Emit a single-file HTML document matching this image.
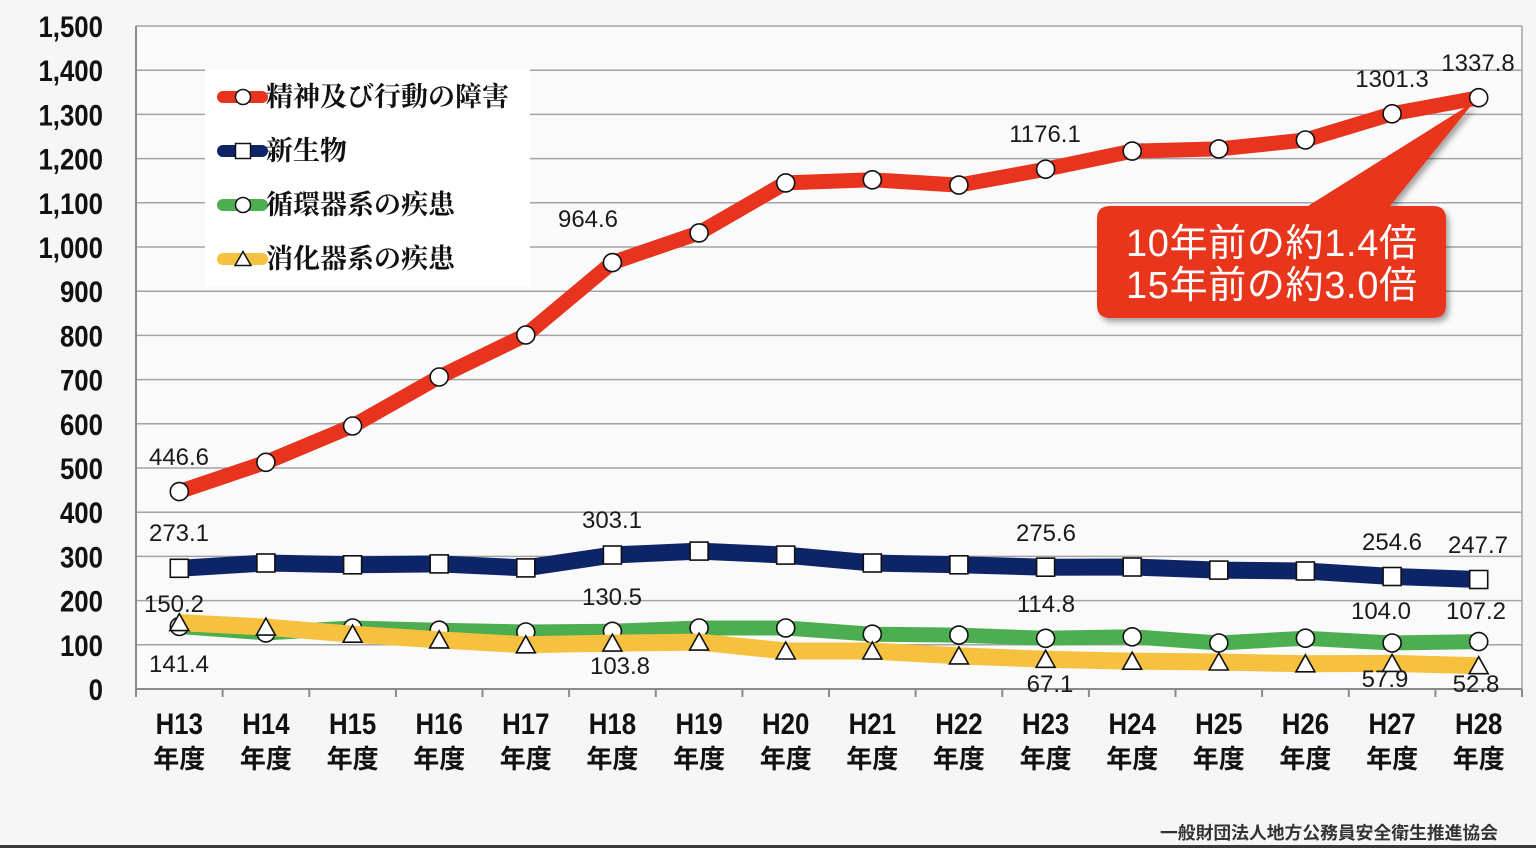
<!DOCTYPE html>
<html><head><meta charset="utf-8">
<style>
html,body{margin:0;padding:0;background:#f6f6f6;}
svg{display:block;}
</style></head>
<body>
<svg width="1536" height="848" viewBox="0 0 1536 848" xmlns="http://www.w3.org/2000/svg">
<defs>
<filter id="sh" x="-10%" y="-10%" width="130%" height="130%">
<feDropShadow dx="3" dy="4" stdDeviation="3" flood-color="#000" flood-opacity="0.35"/>
</filter>
</defs>
<rect x="0" y="0" width="1536" height="848" fill="#f6f6f6"/>
<rect x="136" y="26" width="1386" height="663" fill="#fafafa"/>
<!-- gridlines -->
<g stroke="#a3a3a3" stroke-width="1.5">
<line x1="136" y1="26" x2="1522" y2="26"/>
<line x1="136" y1="70.2" x2="1522" y2="70.2"/>
<line x1="136" y1="114.4" x2="1522" y2="114.4"/>
<line x1="136" y1="158.6" x2="1522" y2="158.6"/>
<line x1="136" y1="202.8" x2="1522" y2="202.8"/>
<line x1="136" y1="247" x2="1522" y2="247"/>
<line x1="136" y1="291.2" x2="1522" y2="291.2"/>
<line x1="136" y1="335.4" x2="1522" y2="335.4"/>
<line x1="136" y1="379.6" x2="1522" y2="379.6"/>
<line x1="136" y1="423.8" x2="1522" y2="423.8"/>
<line x1="136" y1="468" x2="1522" y2="468"/>
<line x1="136" y1="512.2" x2="1522" y2="512.2"/>
<line x1="136" y1="556.4" x2="1522" y2="556.4"/>
<line x1="136" y1="600.6" x2="1522" y2="600.6"/>
<line x1="136" y1="644.8" x2="1522" y2="644.8"/>
<line x1="1522" y1="26" x2="1522" y2="689"/>
</g>
<!-- axes -->
<g stroke="#8a8a8a" stroke-width="2">
<line x1="136" y1="26" x2="136" y2="690"/>
<line x1="136" y1="689" x2="1522" y2="689"/>
<line x1="136" y1="689" x2="136" y2="697"/>
<line x1="222.6" y1="689" x2="222.6" y2="697"/>
<line x1="309.3" y1="689" x2="309.3" y2="697"/>
<line x1="395.9" y1="689" x2="395.9" y2="697"/>
<line x1="482.5" y1="689" x2="482.5" y2="697"/>
<line x1="569.1" y1="689" x2="569.1" y2="697"/>
<line x1="655.8" y1="689" x2="655.8" y2="697"/>
<line x1="742.4" y1="689" x2="742.4" y2="697"/>
<line x1="829" y1="689" x2="829" y2="697"/>
<line x1="915.6" y1="689" x2="915.6" y2="697"/>
<line x1="1002.3" y1="689" x2="1002.3" y2="697"/>
<line x1="1088.9" y1="689" x2="1088.9" y2="697"/>
<line x1="1175.5" y1="689" x2="1175.5" y2="697"/>
<line x1="1262.1" y1="689" x2="1262.1" y2="697"/>
<line x1="1348.8" y1="689" x2="1348.8" y2="697"/>
<line x1="1435.4" y1="689" x2="1435.4" y2="697"/>
<line x1="1522" y1="689" x2="1522" y2="697"/>
</g>
<!-- y labels -->
<g font-family="Liberation Sans, sans-serif" font-size="30" font-weight="bold" fill="#111" text-anchor="end">
<text transform="translate(103,37) scale(0.86,1)">1,500</text>
<text transform="translate(103,81.2) scale(0.86,1)">1,400</text>
<text transform="translate(103,125.4) scale(0.86,1)">1,300</text>
<text transform="translate(103,169.6) scale(0.86,1)">1,200</text>
<text transform="translate(103,213.8) scale(0.86,1)">1,100</text>
<text transform="translate(103,258) scale(0.86,1)">1,000</text>
<text transform="translate(103,302.2) scale(0.86,1)">900</text>
<text transform="translate(103,346.4) scale(0.86,1)">800</text>
<text transform="translate(103,390.6) scale(0.86,1)">700</text>
<text transform="translate(103,434.8) scale(0.86,1)">600</text>
<text transform="translate(103,479) scale(0.86,1)">500</text>
<text transform="translate(103,523.2) scale(0.86,1)">400</text>
<text transform="translate(103,567.4) scale(0.86,1)">300</text>
<text transform="translate(103,611.6) scale(0.86,1)">200</text>
<text transform="translate(103,655.8) scale(0.86,1)">100</text>
<text transform="translate(103,700) scale(0.86,1)">0</text>
</g>
<!-- x labels -->
<g font-family="Liberation Sans, sans-serif" font-size="30" font-weight="bold" fill="#111" text-anchor="middle">
<text transform="translate(179.3,734) scale(0.86,1)">H13</text>
<text transform="translate(265.9,734) scale(0.86,1)">H14</text>
<text transform="translate(352.6,734) scale(0.86,1)">H15</text>
<text transform="translate(439.2,734) scale(0.86,1)">H16</text>
<text transform="translate(525.8,734) scale(0.86,1)">H17</text>
<text transform="translate(612.4,734) scale(0.86,1)">H18</text>
<text transform="translate(699.1,734) scale(0.86,1)">H19</text>
<text transform="translate(785.7,734) scale(0.86,1)">H20</text>
<text transform="translate(872.3,734) scale(0.86,1)">H21</text>
<text transform="translate(958.9,734) scale(0.86,1)">H22</text>
<text transform="translate(1045.6,734) scale(0.86,1)">H23</text>
<text transform="translate(1132.2,734) scale(0.86,1)">H24</text>
<text transform="translate(1218.8,734) scale(0.86,1)">H25</text>
<text transform="translate(1305.4,734) scale(0.86,1)">H26</text>
<text transform="translate(1392.1,734) scale(0.86,1)">H27</text>
<text transform="translate(1478.7,734) scale(0.86,1)">H28</text>
</g>
<g font-family="Liberation Sans, 'Noto Sans CJK JP', sans-serif" font-size="26" font-weight="bold" fill="#111" text-anchor="middle">
<text x="179.3" y="768">年度</text>
<text x="265.9" y="768">年度</text>
<text x="352.6" y="768">年度</text>
<text x="439.2" y="768">年度</text>
<text x="525.8" y="768">年度</text>
<text x="612.4" y="768">年度</text>
<text x="699.1" y="768">年度</text>
<text x="785.7" y="768">年度</text>
<text x="872.3" y="768">年度</text>
<text x="958.9" y="768">年度</text>
<text x="1045.6" y="768">年度</text>
<text x="1132.2" y="768">年度</text>
<text x="1218.8" y="768">年度</text>
<text x="1305.4" y="768">年度</text>
<text x="1392.1" y="768">年度</text>
<text x="1478.7" y="768">年度</text>
</g>

<!-- legend box -->
<rect x="205" y="69" width="325" height="217" fill="#ffffff"/>

<!-- Red series -->
<polyline fill="none" stroke="#e8341f" stroke-width="15" stroke-linejoin="round" points="179.3,491.6 265.9,462.3 352.6,426 439.2,377 525.8,335 612.4,262.6 699.1,232.9 785.7,182.9 872.3,179.8 958.9,185.1 1045.6,169.2 1132.2,151.1 1218.8,148.9 1305.4,140 1392.1,113.8 1478.7,97.7"/>
<g fill="#fff" stroke="#111" stroke-width="1.6">
<circle cx="179.3" cy="491.6" r="9"/><circle cx="265.9" cy="462.3" r="9"/><circle cx="352.6" cy="426" r="9"/><circle cx="439.2" cy="377" r="9"/><circle cx="525.8" cy="335" r="9"/><circle cx="612.4" cy="262.6" r="9"/><circle cx="699.1" cy="232.9" r="9"/><circle cx="785.7" cy="182.9" r="9"/><circle cx="872.3" cy="179.8" r="9"/><circle cx="958.9" cy="185.1" r="9"/><circle cx="1045.6" cy="169.2" r="9"/><circle cx="1132.2" cy="151.1" r="9"/><circle cx="1218.8" cy="148.9" r="9"/><circle cx="1305.4" cy="140" r="9"/><circle cx="1392.1" cy="113.8" r="9"/><circle cx="1478.7" cy="97.7" r="9"/>
</g>

<!-- Blue series -->
<polyline fill="none" stroke="#0d2466" stroke-width="17" stroke-linejoin="round" points="179.3,568.3 265.9,563 352.6,564.8 439.2,563.9 525.8,567.9 612.4,555 699.1,551.1 785.7,555.1 872.3,563 958.9,564.8 1045.6,567.2 1132.2,567 1218.8,570.1 1305.4,571 1392.1,576.5 1478.7,579.5"/>
<g fill="#fff" stroke="#111" stroke-width="1.6">
<rect x="170.3" y="559.3" width="18" height="18"/><rect x="256.9" y="554" width="18" height="18"/><rect x="343.6" y="555.8" width="18" height="18"/><rect x="430.2" y="554.9" width="18" height="18"/><rect x="516.8" y="558.9" width="18" height="18"/><rect x="603.4" y="546" width="18" height="18"/><rect x="690.1" y="542.1" width="18" height="18"/><rect x="776.7" y="546.1" width="18" height="18"/><rect x="863.3" y="554" width="18" height="18"/><rect x="949.9" y="555.8" width="18" height="18"/><rect x="1036.6" y="558.2" width="18" height="18"/><rect x="1123.2" y="558" width="18" height="18"/><rect x="1209.8" y="561.1" width="18" height="18"/><rect x="1296.4" y="562" width="18" height="18"/><rect x="1383.1" y="567.5" width="18" height="18"/><rect x="1469.7" y="570.5" width="18" height="18"/>
</g>

<!-- Green series -->
<polyline fill="none" stroke="#4cae50" stroke-width="15" stroke-linejoin="round" points="179.3,626.5 265.9,632.9 352.6,628 439.2,630.2 525.8,632 612.4,631.3 699.1,628 785.7,628 872.3,634.2 958.9,635.1 1045.6,638.3 1132.2,636.8 1218.8,643 1305.4,638.2 1392.1,643 1478.7,641.6"/>
<g fill="#fff" stroke="#111" stroke-width="1.6">
<circle cx="179.3" cy="626.5" r="9"/><circle cx="265.9" cy="632.9" r="9"/><circle cx="352.6" cy="628" r="9"/><circle cx="439.2" cy="630.2" r="9"/><circle cx="525.8" cy="632" r="9"/><circle cx="612.4" cy="631.3" r="9"/><circle cx="699.1" cy="628" r="9"/><circle cx="785.7" cy="628" r="9"/><circle cx="872.3" cy="634.2" r="9"/><circle cx="958.9" cy="635.1" r="9"/><circle cx="1045.6" cy="638.3" r="9"/><circle cx="1132.2" cy="636.8" r="9"/><circle cx="1218.8" cy="643" r="9"/><circle cx="1305.4" cy="638.2" r="9"/><circle cx="1392.1" cy="643" r="9"/><circle cx="1478.7" cy="641.6" r="9"/>
</g>

<!-- Yellow series -->
<polyline fill="none" stroke="#f5c13e" stroke-width="17" stroke-linejoin="round" points="179.3,622.6 265.9,627.1 352.6,634.2 439.2,639.9 525.8,644.8 612.4,643.1 699.1,642.1 785.7,651 872.3,651 958.9,655.9 1045.6,659.3 1132.2,661.2 1218.8,662 1305.4,663.8 1392.1,663.4 1478.7,665.7"/>
<g fill="#fff" stroke="#111" stroke-width="1.6" stroke-linejoin="miter">
<polygon points="179.3,613.6 188.8,630.6 169.8,630.6"/>
<polygon points="265.9,618.1 275.4,635.1 256.4,635.1"/>
<polygon points="352.6,625.2 362.1,642.2 343.1,642.2"/>
<polygon points="439.2,630.9 448.7,647.9 429.7,647.9"/>
<polygon points="525.8,635.8 535.3,652.8 516.3,652.8"/>
<polygon points="612.4,634.1 621.9,651.1 602.9,651.1"/>
<polygon points="699.1,633.1 708.6,650.1 689.6,650.1"/>
<polygon points="785.7,642 795.2,659 776.2,659"/>
<polygon points="872.3,642 881.8,659 862.8,659"/>
<polygon points="958.9,646.9 968.4,663.9 949.4,663.9"/>
<polygon points="1045.6,650.3 1055.1,667.3 1036.1,667.3"/>
<polygon points="1132.2,652.2 1141.7,669.2 1122.7,669.2"/>
<polygon points="1218.8,653 1228.3,670 1209.3,670"/>
<polygon points="1305.4,654.8 1314.9,671.8 1295.9,671.8"/>
<polygon points="1392.1,654.4 1401.6,671.4 1382.6,671.4"/>
<polygon points="1478.7,656.7 1488.2,673.7 1469.2,673.7"/>
</g>

<!-- data labels -->
<g font-family="Liberation Sans, sans-serif" font-size="24" fill="#1a1a1a" text-anchor="middle">
<text x="179" y="465">446.6</text>
<text x="179" y="541">273.1</text>
<text x="174" y="612">150.2</text>
<text x="179" y="672">141.4</text>
<text x="588" y="227">964.6</text>
<text x="612" y="528">303.1</text>
<text x="612" y="605">130.5</text>
<text x="620" y="674">103.8</text>
<text x="1045" y="142">1176.1</text>
<text x="1046" y="541">275.6</text>
<text x="1046" y="612">114.8</text>
<text x="1050" y="692">67.1</text>
<text x="1392" y="87">1301.3</text>
<text x="1392" y="550">254.6</text>
<text x="1381" y="619">104.0</text>
<text x="1385" y="687">57.9</text>
<text x="1478" y="71">1337.8</text>
<text x="1478" y="553">247.7</text>
<text x="1476" y="619">107.2</text>
<text x="1476" y="692">52.8</text>
</g>

<!-- legend -->
<g stroke-linecap="round" stroke-width="12">
<line x1="223" y1="97" x2="262" y2="97" stroke="#e8341f"/>
<line x1="223" y1="151" x2="262" y2="151" stroke="#0d2466"/>
<line x1="223" y1="205" x2="262" y2="205" stroke="#4cae50"/>
<line x1="223" y1="259" x2="262" y2="259" stroke="#f5c13e"/>
</g>
<g fill="#fff" stroke="#111" stroke-width="1.5">
<circle cx="243" cy="97" r="7.5"/>
<rect x="235.5" y="143.5" width="15" height="15"/>
<circle cx="243" cy="205" r="7.5"/>
<polygon points="243,251.5 251,265.5 235,265.5"/>
</g>
<g font-family="'Liberation Serif','Noto Serif CJK SC',serif" font-size="27" font-weight="bold" fill="#111">
<text x="266" y="106">精神及び行動の障害</text>
<text x="266" y="160">新生物</text>
<text x="266" y="214">循環器系の疾患</text>
<text x="266" y="268">消化器系の疾患</text>
</g>

<!-- callout -->
<g filter="url(#sh)">
<path d="M1110,206 L1308,206 L1474,102 L1390,206 L1433,206 Q1446,206 1446,219 L1446,305 Q1446,318 1433,318 L1110,318 Q1097,318 1097,305 L1097,219 Q1097,206 1110,206 Z" fill="#e8341f"/>
</g>
<g font-family="'Liberation Sans','Noto Sans CJK JP',sans-serif" font-size="38" fill="#ffffff">
<text x="1126" y="256" textLength="291" lengthAdjust="spacing">10年前の約1.4倍</text>
<text x="1126" y="298" textLength="291" lengthAdjust="spacing">15年前の約3.0倍</text>
</g>

<!-- footer -->
<text x="1160" y="839" font-family="'Liberation Sans','Noto Sans CJK JP',sans-serif" font-size="17.5" font-weight="bold" fill="#333" textLength="338" lengthAdjust="spacingAndGlyphs">一般財団法人地方公務員安全衛生推進協会</text>
<rect x="0" y="845" width="1536" height="3" fill="#3a3a3a"/>
</svg>
</body></html>
